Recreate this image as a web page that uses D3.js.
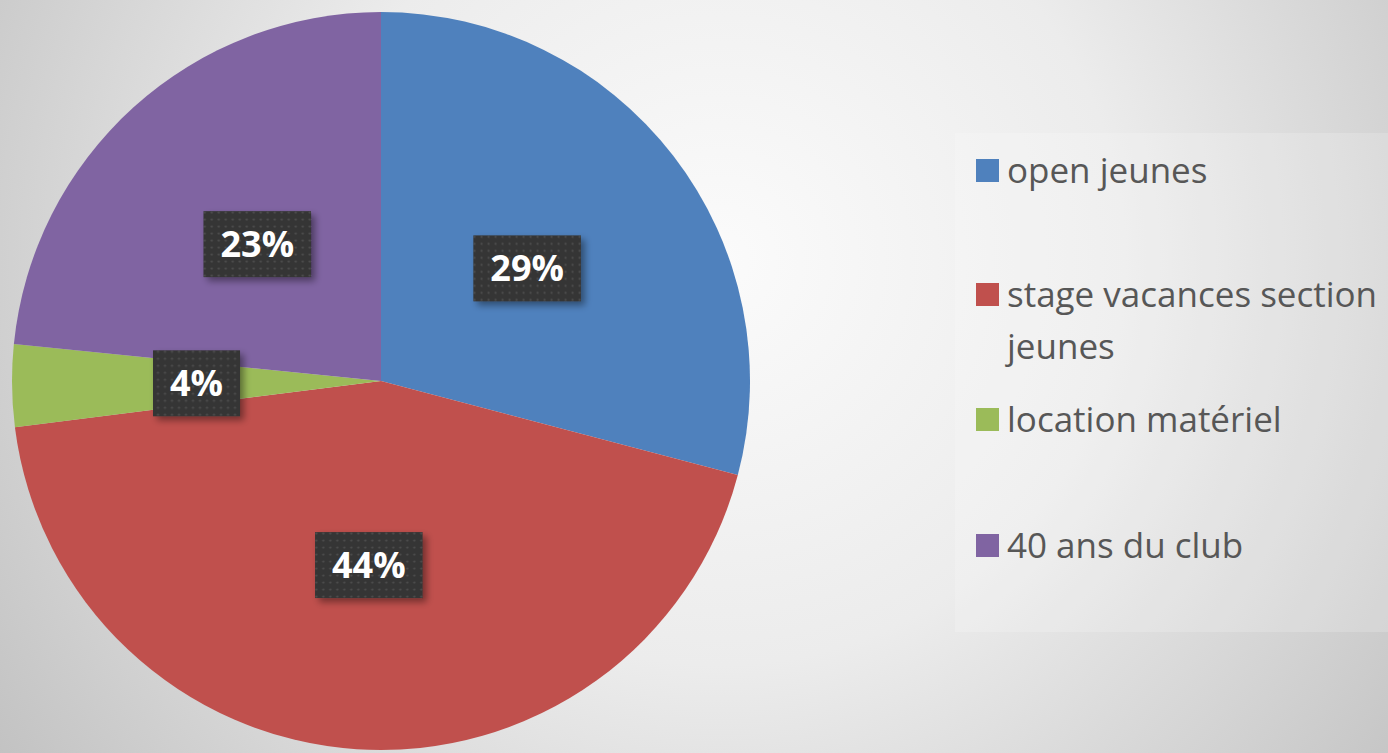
<!DOCTYPE html>
<html>
<head>
<meta charset="utf-8">
<script src="https://cdn.jsdelivr.net/npm/d3@7"></script>
<style>
  html, body { margin: 0; padding: 0; overflow: hidden; }
  svg { display: block; }
</style>
</head>
<body>
<div id="chart"></div>
<script>
// data
var categories = ['open jeunes', 'stage vacances section jeunes', 'location matériel', '40 ans du club'];
var shares = [29.1, 43.9, 3.6, 23.4];
var labels = ['29%', '44%', '4%', '23%'];
var colors = ['#4f81bd', '#c0504d', '#9bbb59', '#8064a2'];
// legend lines (the second item wraps)
var legendLines = [['open jeunes'], ['stage vacances section', 'jeunes'], ['location matériel'], ['40 ans du club']];

var width = 1388, height = 753;
var cx = 381, cy = 381, radius = 369;

var svg = d3.select('#chart').append('svg')
  .attr('width', width)
  .attr('height', height);

var defs = svg.append('defs');

var bg = defs.append('radialGradient')
  .attr('id', 'bgGrad')
  .attr('gradientUnits', 'userSpaceOnUse')
  .attr('cx', 720).attr('cy', 260).attr('r', 900);
bg.append('stop').attr('offset', '0').attr('stop-color', '#fbfbfb');
bg.append('stop').attr('offset', '0.45').attr('stop-color', '#ececec');
bg.append('stop').attr('offset', '1').attr('stop-color', '#c0c0c0');

var dots = defs.append('pattern')
  .attr('id', 'dots')
  .attr('patternUnits', 'userSpaceOnUse')
  .attr('width', 7).attr('height', 7);
dots.append('rect').attr('width', 7).attr('height', 7).attr('fill', '#353535');
dots.append('circle').attr('cx', 3.5).attr('cy', 3.5).attr('r', 1.1).attr('fill', '#505050');

var shadow = defs.append('filter')
  .attr('id', 'shadow')
  .attr('x', '-30%').attr('y', '-30%').attr('width', '160%').attr('height', '160%');
shadow.append('feGaussianBlur').attr('in', 'SourceAlpha').attr('stdDeviation', 3.5);
shadow.append('feOffset').attr('dx', 4).attr('dy', 4).attr('result', 'off');
shadow.append('feComponentTransfer').append('feFuncA').attr('type', 'linear').attr('slope', 0.4);
var merge = shadow.append('feMerge');
merge.append('feMergeNode');
merge.append('feMergeNode').attr('in', 'SourceGraphic');

svg.append('rect')
  .attr('width', width).attr('height', height)
  .attr('fill', 'url(#bgGrad)');

// pie
var pie = d3.pie().sort(null).value(function(d) { return d; });
var arc = d3.arc().innerRadius(0).outerRadius(radius);
var arcs = pie(shares);

var g = svg.append('g')
  .attr('transform', 'translate(' + cx + ',' + cy + ')');

g.selectAll('path.slice')
  .data(arcs)
  .enter()
  .append('path')
  .attr('class', 'slice')
  .attr('d', arc)
  .attr('fill', function(d, i) { return colors[i]; });

// data labels: dark boxes at the centroid
var lab = g.selectAll('g.lab')
  .data(arcs)
  .enter()
  .append('g')
  .attr('class', 'lab')
  .attr('transform', function(d) { return 'translate(' + arc.centroid(d) + ')'; });

lab.append('text')
  .attr('text-anchor', 'middle')
  .attr('dy', '0.36em')
  .attr('font-family', '"Open Sans", sans-serif')
  .attr('font-weight', 'bold')
  .attr('font-size', '36px')
  .attr('fill', 'white')
  .text(function(d, i) { return labels[i]; });

lab.each(function() {
  var grp = d3.select(this);
  var bb = grp.select('text').node().getBBox();
  grp.insert('rect', 'text')
    .attr('x', bb.x - 17)
    .attr('y', -33)
    .attr('width', bb.width + 34)
    .attr('height', 66)
    .attr('fill', 'url(#dots)')
    .attr('filter', 'url(#shadow)');
});

// legend
var legend = svg.append('g');
legend.append('rect')
  .attr('x', 955).attr('y', 133)
  .attr('width', 440).attr('height', 499)
  .attr('fill', '#ffffff')
  .attr('fill-opacity', 0.18);

var rowBase = [183, 307, 432, 558];
var items = legend.selectAll('g.item')
  .data(categories)
  .enter()
  .append('g')
  .attr('class', 'item');

items.append('rect')
  .attr('x', 976)
  .attr('y', function(d, i) { return rowBase[i] - 24; })
  .attr('width', 23).attr('height', 23)
  .attr('fill', function(d, i) { return colors[i]; });

items.append('text')
  .attr('x', 1007)
  .attr('y', function(d, i) { return rowBase[i]; })
  .attr('font-family', '"Open Sans", sans-serif')
  .attr('font-size', '35px')
  .attr('fill', '#575757')
  .each(function(d, i) {
    var t = d3.select(this);
    legendLines[i].forEach(function(line, j) {
      t.append('tspan')
        .attr('x', 1007)
        .attr('dy', j === 0 ? 0 : 52)
        .text(line);
    });
  });
</script>
</body>
</html>
